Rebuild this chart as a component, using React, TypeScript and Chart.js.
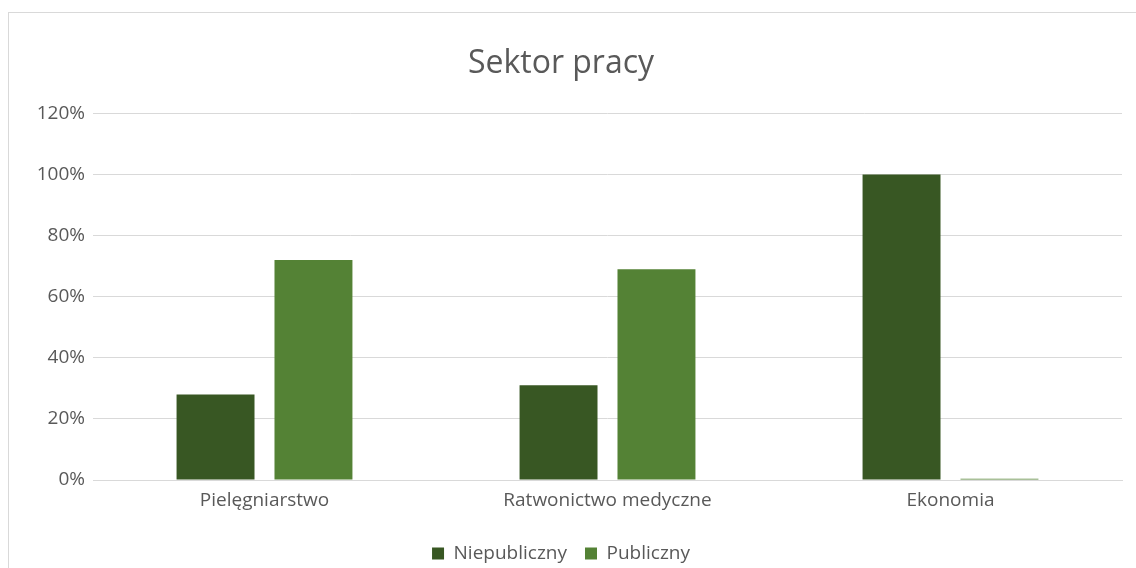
import React, { useEffect, useRef } from "react";
import { Chart, registerables } from "chart.js";

Chart.register(...registerables);

const categories = ["Pielęgniarstwo", "Ratwonictwo medyczne", "Ekonomia"];
const niepubliczny = [0.28, 0.31, 1.0];
const publiczny = [0.72, 0.69, 0.004];
const seriesNames = ["Niepubliczny", "Publiczny"];
const chartTitle = "Sektor pracy";

const FONT = "'Open Sans', 'Noto Sans', sans-serif";
const TEXT = "#595959";
const GRID = "#d9d9d9";

const borderPlugin = {
  id: "outerBorder",
  beforeDraw(chart: any) {
    const ctx = chart.ctx;
    ctx.save();
    ctx.fillStyle = "#ffffff";
    ctx.fillRect(0, 0, chart.width, chart.height);
    ctx.strokeStyle = GRID;
    ctx.lineWidth = 1;
    ctx.strokeRect(8.5, 12.5, chart.width + 20, chart.height + 20);
    ctx.restore();
  },
};

export default function App() {
  const ref = useRef<HTMLCanvasElement>(null);
  useEffect(() => {
    if (!ref.current) return;
    const chart = new Chart(ref.current, {
      type: "bar",
      data: {
        labels: categories,
        datasets: [
          { label: seriesNames[0], data: niepubliczny, backgroundColor: "#385723", borderWidth: 0 },
          { label: seriesNames[1], data: publiczny, backgroundColor: "#548235", borderWidth: 0 },
        ],
      },
      options: {
        animation: false,
        responsive: false,
        maintainAspectRatio: false,
        datasets: { bar: { categoryPercentage: 0.571, barPercentage: 0.796 } },
        layout: { padding: { left: 0, right: 14, top: 14, bottom: -5 } },
        plugins: {
          title: {
            display: true,
            text: chartTitle,
            color: TEXT,
            font: { family: FONT, size: 32, weight: "normal" },
            padding: { top: 31, bottom: 30 },
          },
          legend: {
            position: "bottom",
            labels: {
              color: TEXT,
              font: { family: FONT, size: 19 },
              boxWidth: 12,
              boxHeight: 12,
              padding: 18,
            },
          },
          tooltip: { enabled: false },
        },
        scales: {
          x: {
            grid: { display: false },
            border: { display: true, color: GRID, width: 1 },
            ticks: { color: TEXT, font: { family: FONT, size: 19 }, padding: 1 },
            afterFit: (s: any) => {
              s.height = 46;
            },
          },
          y: {
            min: 0,
            max: 1.2,
            afterFit: (s: any) => {
              s.width = 93;
            },
            ticks: {
              stepSize: 0.2,
              color: TEXT,
              font: { family: FONT, size: 19 },
              padding: 8,
              callback: (v: any) => Math.round(Number(v) * 100) + "%",
            },
            grid: { color: GRID, lineWidth: 1, drawTicks: false },
            border: { display: false },
          },
        },
      },
      plugins: [borderPlugin],
    });
    return () => chart.destroy();
  }, []);
  return (
    <canvas
      ref={ref}
      width={1136}
      height={568}
      style={{ position: "fixed", left: 0, top: 0, width: 1136, height: 568 }}
    />
  );
}
